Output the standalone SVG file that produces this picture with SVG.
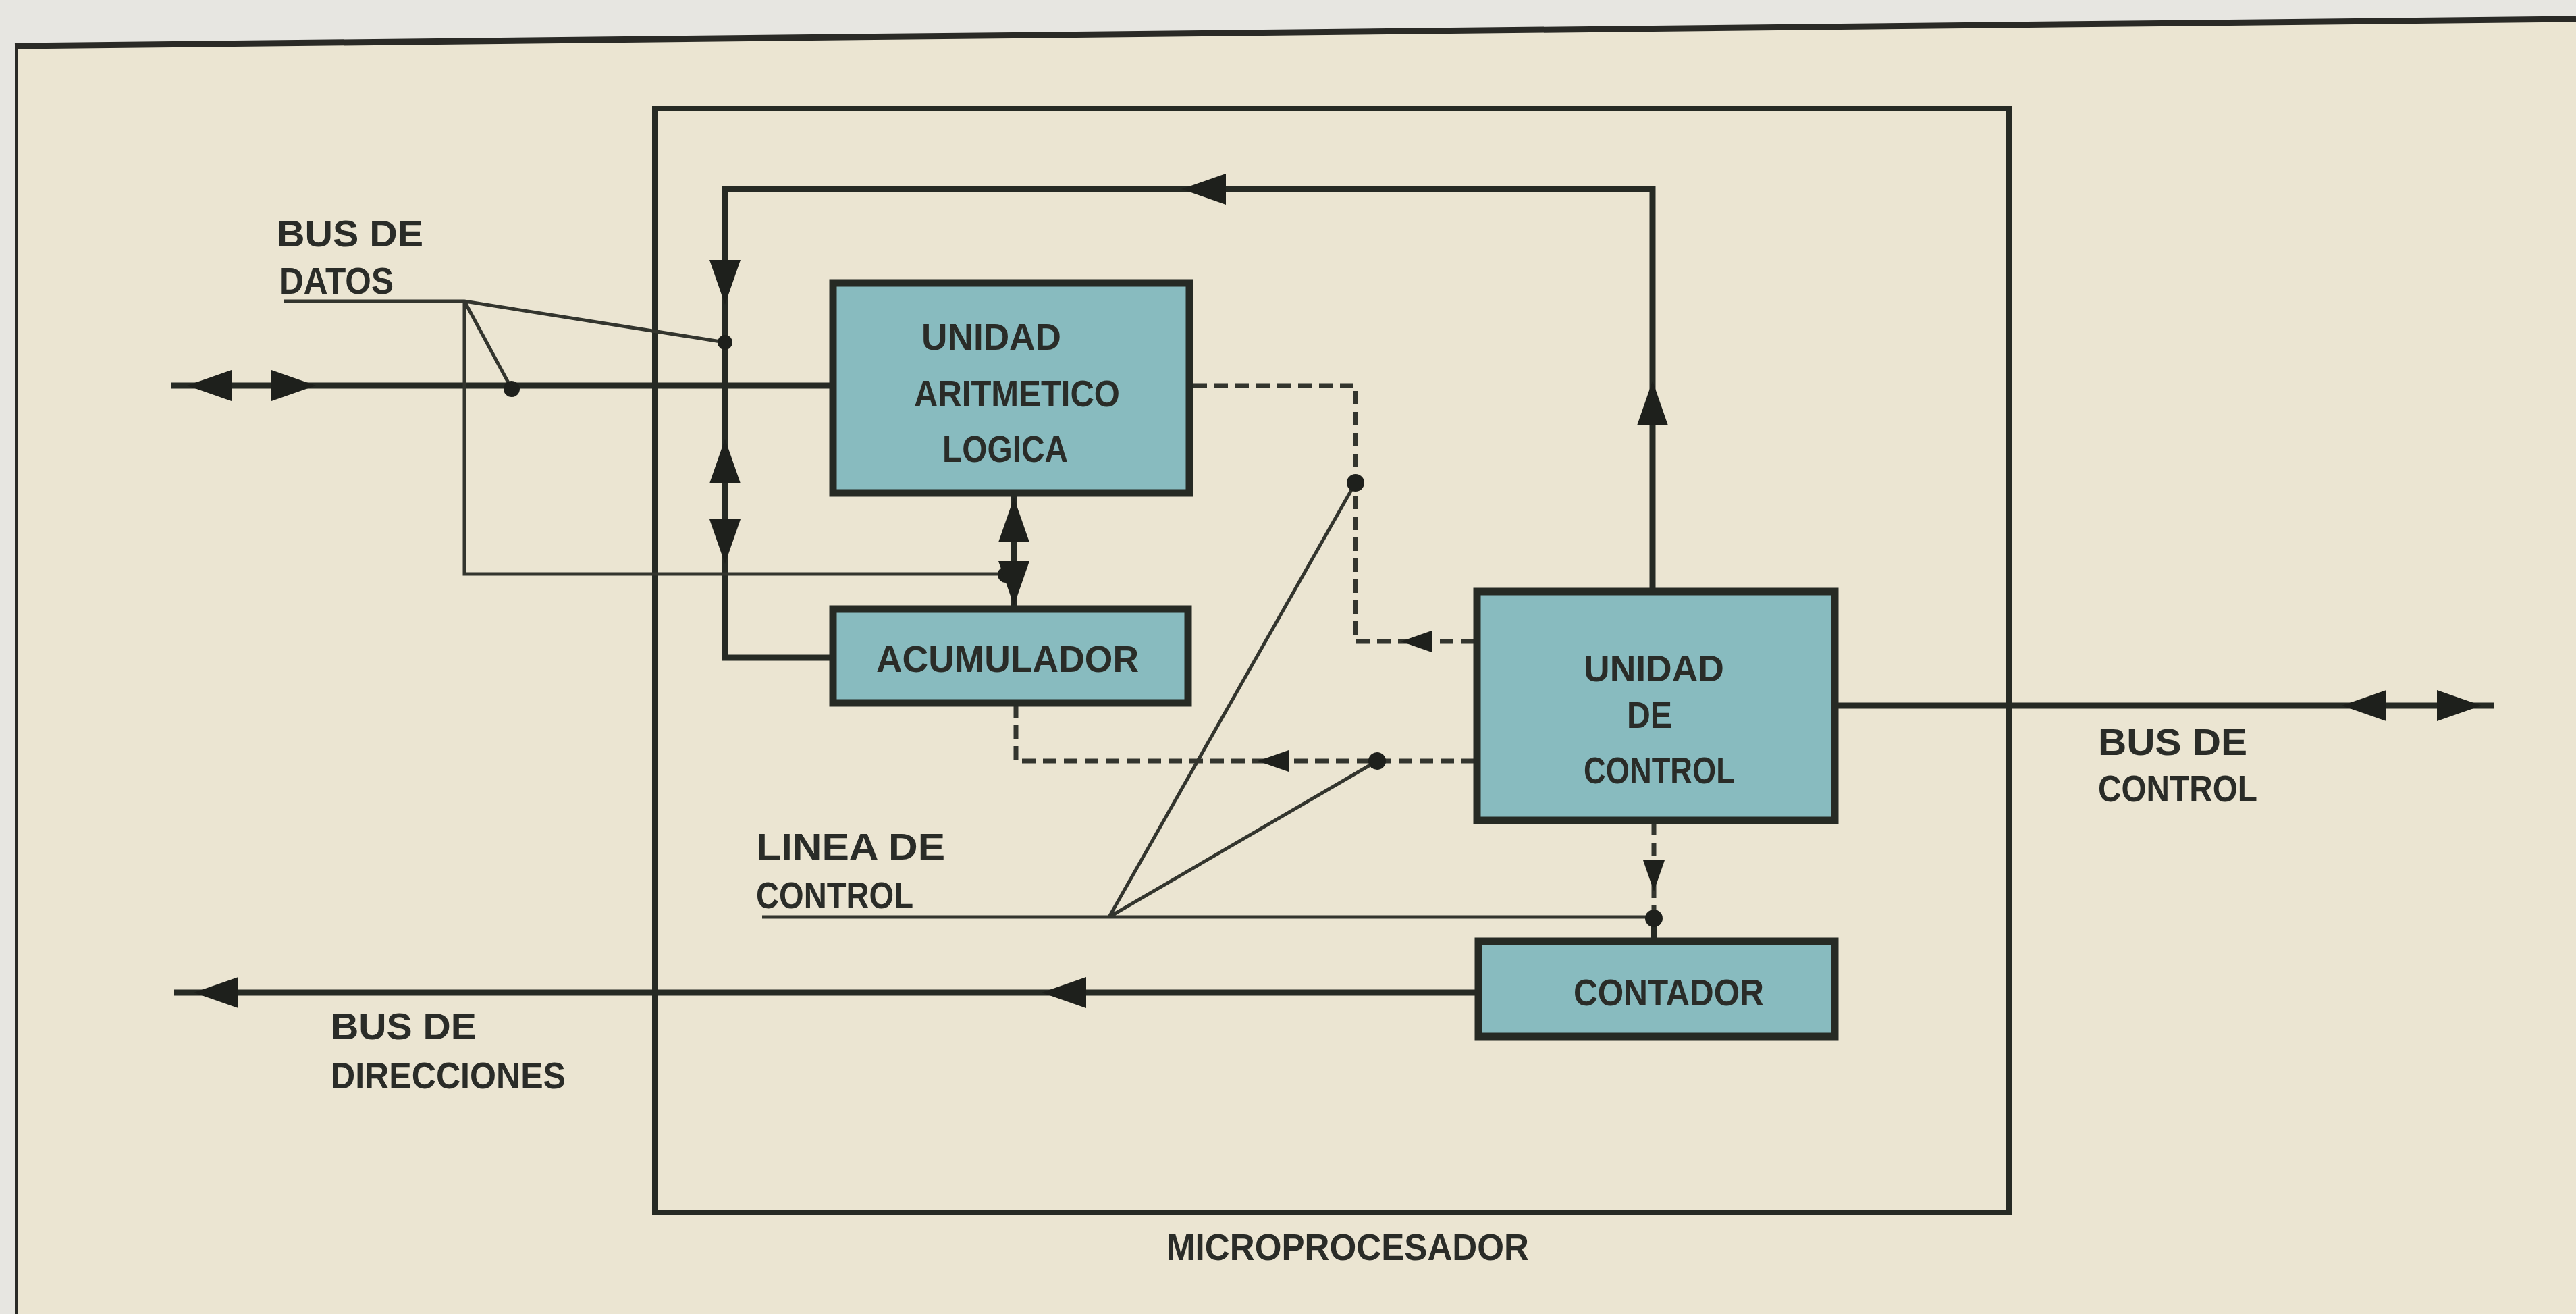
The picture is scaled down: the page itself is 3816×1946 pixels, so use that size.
<svg xmlns="http://www.w3.org/2000/svg" xmlns:xlink="http://www.w3.org/1999/xlink" width="3816" height="1946" viewBox="0 0 3816 1946">
<style>
.bg{fill:#ebe5d2}
.paper{fill:#e7e6e1}
.box{fill:#88bbbf;stroke:#262a24;stroke-width:11}
.frame{fill:none;stroke:#262a24;stroke-width:8}
.bus{fill:none;stroke:#262a24;stroke-width:9;stroke-linejoin:miter}
.thin{fill:none;stroke:#33352e;stroke-width:5}
.dash{fill:none;stroke:#33352e;stroke-width:7;stroke-dasharray:20 11}
.dot{fill:#1e201c}
.ah{fill:#1e201c}
text{font-family:"Liberation Sans",Arial,sans-serif;font-weight:bold;font-size:56px;fill:#2a2c28}
</style>
<defs>
<path id="ah" d="M0,0 L-66,-23 L-66,23 Z"/>
<path id="ahs" d="M0,0 L-46,-16 L-46,16 Z"/>
</defs>
<rect class="bg" x="0" y="0" width="3816" height="1946"/>
<polygon class="paper" points="0,0 3816,0 3816,28 24,68 24,1946 0,1946"/>
<g id="page-frame">
<line x1="22" y1="68" x2="3816" y2="28" stroke="#2a2a26" stroke-width="9"/>
<line x1="24" y1="66" x2="24" y2="1946" stroke="#2a2a26" stroke-width="4"/>
</g>
<g id="microprocesador">
<rect class="frame" x="970" y="161" width="2006" height="1635"/>
<text x="1728" y="1866" textLength="537" lengthAdjust="spacingAndGlyphs">MICROPROCESADOR</text>
</g>
<g id="connectors">
<!-- data bus -->
<path class="bus" d="M254,571 H1231"/>
<use xlink:href="#ah" transform="translate(277,571) rotate(180)" class="ah"/>
<use xlink:href="#ah" transform="translate(468,571)" class="ah"/>
<!-- feedback loop -->
<path class="bus" d="M2448,873 V280 H1074 V974 H1231"/>
<use xlink:href="#ah" transform="translate(1750,280) rotate(180)" class="ah"/>
<use xlink:href="#ah" transform="translate(1074,451) rotate(90)" class="ah"/>
<use xlink:href="#ah" transform="translate(1074,650) rotate(-90)" class="ah"/>
<use xlink:href="#ah" transform="translate(1074,835) rotate(90)" class="ah"/>
<use xlink:href="#ah" transform="translate(2448,564) rotate(-90)" class="ah"/>
<!-- ALU <-> ACUMULADOR -->
<path class="bus" d="M1502,732 V900"/>
<!-- datos control lines -->
<path class="thin" d="M420,446 H688 L1074,507 M688,446 L758,576 M688,446 V850 H1490"/>
<circle class="dot" cx="758" cy="576" r="12"/>
<circle class="dot" cx="1074" cy="507" r="11"/>
<circle class="dot" cx="1490" cy="851" r="12"/>
<use xlink:href="#ah" transform="translate(1502,737) rotate(-90)" class="ah"/>
<use xlink:href="#ah" transform="translate(1502,897) rotate(90)" class="ah"/>
<!-- control bus -->
<path class="bus" d="M2720,1045 H3694"/>
<use xlink:href="#ah" transform="translate(3469,1045) rotate(180)" class="ah"/>
<use xlink:href="#ah" transform="translate(3676,1045)" class="ah"/>
<!-- address bus -->
<path class="bus" d="M2190,1470 H258"/>
<use xlink:href="#ah" transform="translate(287,1470) rotate(180)" class="ah"/>
<use xlink:href="#ah" transform="translate(1543,1470) rotate(180)" class="ah"/>
<!-- dashed control signals -->
<path class="dash" d="M1768,571 H2008 V950 H2186"/>
<use xlink:href="#ahs" transform="translate(2075,950) rotate(180)" class="ah"/>
<path class="dash" d="M1505,1043 V1127 H2186"/>
<use xlink:href="#ahs" transform="translate(1863,1127) rotate(180)" class="ah"/>
<path class="dash" d="M2450,1217 V1360"/>
<use xlink:href="#ahs" transform="translate(2450,1320) rotate(90)" class="ah"/>
<path class="bus" d="M2450,1360 V1392"/>
<!-- linea de control -->
<path class="thin" d="M1129,1358 H2450 M1643,1358 L2008,715 M1643,1358 L2040,1127"/>
<circle class="dot" cx="2008" cy="715" r="13"/>
<circle class="dot" cx="2040" cy="1127" r="13"/>
<circle class="dot" cx="2450" cy="1360" r="13"/>
</g>
<g id="alu">
<rect class="box" x="1234" y="419" width="528" height="311"/>
<text x="1365" y="518" textLength="207" lengthAdjust="spacingAndGlyphs">UNIDAD</text>
<text x="1354" y="602" textLength="305" lengthAdjust="spacingAndGlyphs">ARITMETICO</text>
<text x="1396" y="684" textLength="186" lengthAdjust="spacingAndGlyphs">LOGICA</text>
</g>
<g id="acumulador">
<rect class="box" x="1234" y="902" width="526" height="139"/>
<text x="1298" y="995" textLength="389" lengthAdjust="spacingAndGlyphs">ACUMULADOR</text>
</g>
<g id="unidad-control">
<rect class="box" x="2188" y="876" width="530" height="339"/>
<text x="2346" y="1009" textLength="208" lengthAdjust="spacingAndGlyphs">UNIDAD</text>
<text x="2410" y="1078" textLength="67" lengthAdjust="spacingAndGlyphs">DE</text>
<text x="2346" y="1160" textLength="224" lengthAdjust="spacingAndGlyphs">CONTROL</text>
</g>
<g id="contador">
<rect class="box" x="2190" y="1394" width="528" height="141"/>
<text x="2331" y="1489" textLength="282" lengthAdjust="spacingAndGlyphs">CONTADOR</text>
</g>
<g id="labels">
<text x="410" y="365" textLength="217" lengthAdjust="spacingAndGlyphs">BUS  DE</text>
<text x="414" y="435" textLength="169" lengthAdjust="spacingAndGlyphs">DATOS</text>
<text x="3108" y="1118" textLength="221" lengthAdjust="spacingAndGlyphs">BUS  DE</text>
<text x="3108" y="1187" textLength="236" lengthAdjust="spacingAndGlyphs">CONTROL</text>
<text x="1120" y="1273" textLength="280" lengthAdjust="spacingAndGlyphs">LINEA  DE</text>
<text x="1120" y="1345" textLength="233" lengthAdjust="spacingAndGlyphs">CONTROL</text>
<text x="490" y="1539" textLength="216" lengthAdjust="spacingAndGlyphs">BUS  DE</text>
<text x="490" y="1612" textLength="348" lengthAdjust="spacingAndGlyphs">DIRECCIONES</text>
</g>
</svg>
